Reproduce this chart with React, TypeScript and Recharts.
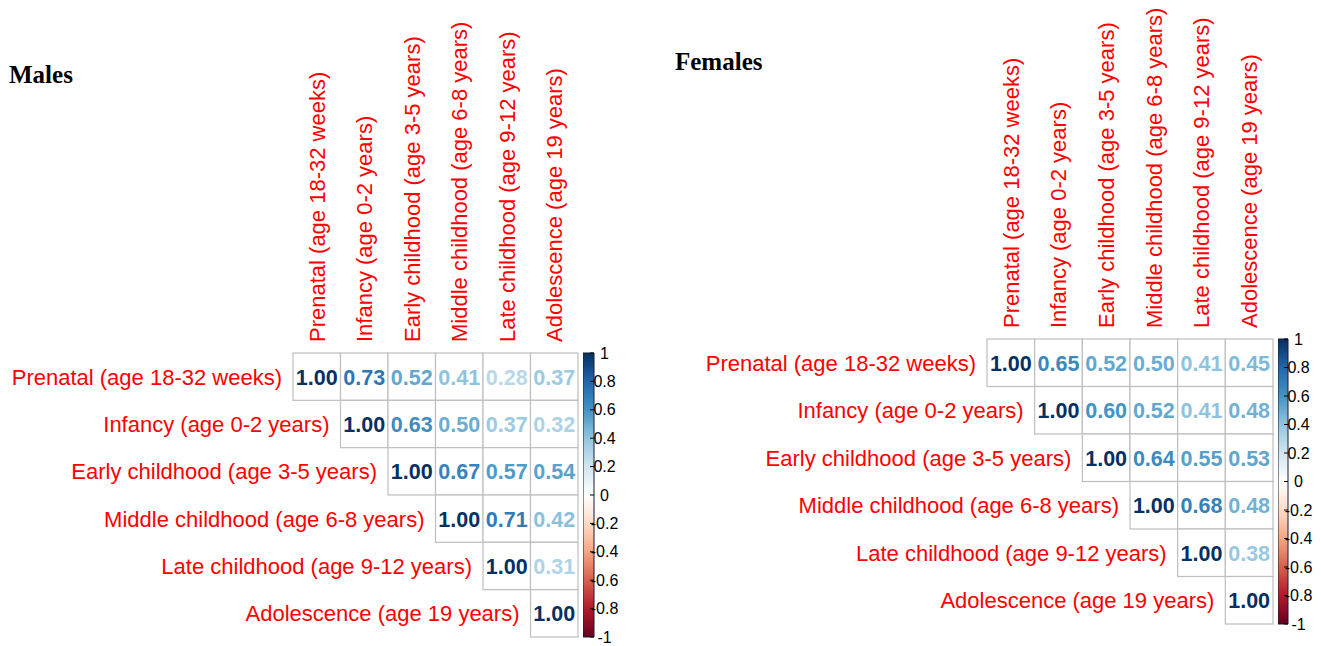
import React from 'react'
import { ScatterChart, Scatter, XAxis, YAxis, BarChart, Bar } from 'recharts'

// variable names, same order on both axes
const LABELS = [
  'Prenatal (age 18-32 weeks)',
  'Infancy (age 0-2 years)',
  'Early childhood (age 3-5 years)',
  'Middle childhood (age 6-8 years)',
  'Late childhood (age 9-12 years)',
  'Adolescence (age 19 years)',
]

// upper triangle, each row starts at the diagonal
const MALES_R = [
  [1.0, 0.73, 0.52, 0.41, 0.28, 0.37],
  [1.0, 0.63, 0.5, 0.37, 0.32],
  [1.0, 0.67, 0.57, 0.54],
  [1.0, 0.71, 0.42],
  [1.0, 0.31],
  [1.0],
]

const FEMALES_R = [
  [1.0, 0.65, 0.52, 0.5, 0.41, 0.45],
  [1.0, 0.6, 0.52, 0.41, 0.48],
  [1.0, 0.64, 0.55, 0.53],
  [1.0, 0.68, 0.48],
  [1.0, 0.38],
  [1.0],
]

const CB_TICKS = [-1, -0.8, -0.6, -0.4, -0.2, 0, 0.2, 0.4, 0.6, 0.8, 1]
const CELL_TICKS = [0.5, 1.5, 2.5, 3.5, 4.5, 5.5]

// corrplot RdBu palette, from -1 to 1
const PALETTE = ['#67001F', '#B2182B', '#D6604D', '#F4A582', '#FDDBC7', '#FFFFFF',
  '#D1E5F0', '#92C5DE', '#4393C3', '#2166AC', '#053061']

const SANS = '"Liberation Sans", Arial, sans-serif'
const SERIF = '"Liberation Serif", "Times New Roman", serif'
const RED = '#FF0000'

function hexToRgb(h: string) {
  const n = parseInt(h.slice(1), 16)
  return [(n >> 16) & 255, (n >> 8) & 255, n & 255]
}

function colorFor(v: number): string {
  const t = ((v + 1) / 2) * (PALETTE.length - 1)
  const i = Math.min(PALETTE.length - 2, Math.floor(t))
  const f = t - i
  const a = hexToRgb(PALETTE[i])
  const b = hexToRgb(PALETTE[i + 1])
  const c = a.map((x, k) => Math.round(x + (b[k] - x) * f))
  return `rgb(${c[0]},${c[1]},${c[2]})`
}

function toCells(rows: number[][]) {
  const out: { x: number; y: number; r: number }[] = []
  rows.forEach((row, i) => {
    row.forEach((r, k) => {
      out.push({ x: i + k + 0.5, y: i + 0.5, r })
    })
  })
  return out
}

interface PanelProps {
  rows: number[][]
  left: number
  width: number
  margin: { top: number; left: number; right: number; bottom: number }
}

const AXIS_X_H = 300
const AXIS_Y_W = 285

function CorrPanel({ rows, left, width, margin }: PanelProps) {
  const height = 646
  const cellW = (width - margin.left - margin.right - AXIS_Y_W) / 6
  const cellH = (height - margin.top - margin.bottom - AXIS_X_H) / 6
  const gridTop = margin.top + AXIS_X_H
  const gridLeft = margin.left + AXIS_Y_W

  const colTick = (p: any) => (
    <text
      transform={`translate(${p.x},${gridTop - 11}) rotate(-90)`}
      dy="0.36em"
      textAnchor="start"
      fill={RED}
      fontFamily={SANS}
      fontSize={22}
    >
      {LABELS[Math.floor(p.payload.value)]}
    </text>
  )

  // upper triangle: each row name sits just left of its diagonal cell
  const rowTick = (p: any) => {
    const i = Math.floor(p.payload.value)
    return (
      <text
        x={gridLeft + i * cellW - 11}
        y={p.y}
        dy="0.36em"
        textAnchor="end"
        fill={RED}
        fontFamily={SANS}
        fontSize={22}
      >
        {LABELS[i]}
      </text>
    )
  }

  const cellShape = (p: any) => {
    const r = p.payload.r as number
    return (
      <g>
        <rect
          x={p.cx - cellW / 2}
          y={p.cy - cellH / 2}
          width={cellW}
          height={cellH}
          fill="#fff"
          stroke="#BEBEBE"
          strokeWidth={1.2}
        />
        <text
          x={p.cx}
          y={p.cy}
          dy="0.37em"
          textAnchor="middle"
          fill={colorFor(r)}
          fontFamily={SANS}
          fontWeight="bold"
          fontSize={21.5}
        >
          {r.toFixed(2)}
        </text>
      </g>
    )
  }

  return (
    <div style={{ position: 'absolute', left, top: 0 }}>
      <ScatterChart width={width} height={height} margin={margin}>
        <XAxis
          type="number"
          dataKey="x"
          domain={[0, 6]}
          ticks={CELL_TICKS}
          interval={0}
          orientation="top"
          height={AXIS_X_H}
          axisLine={false}
          tickLine={false}
          tick={colTick}
        />
        <YAxis
          type="number"
          dataKey="y"
          domain={[0, 6]}
          ticks={CELL_TICKS}
          interval={0}
          reversed
          width={AXIS_Y_W}
          axisLine={false}
          tickLine={false}
          tick={rowTick}
        />
        <Scatter data={toCells(rows)} shape={cellShape} isAnimationActive={false} />
      </ScatterChart>
    </div>
  )
}

function ColorBar({ id, left, top, bottom, barW, axisW }: { id: string; left: number; top: number; bottom: number; barW: number; axisW: number }) {
  const cbTick = (p: any) => (
    <g>
      <line x1={p.x - 4} x2={p.x} y1={p.y} y2={p.y} stroke="#000" strokeWidth={1} />
      <text
        x={p.x + 10.5}
        y={p.y}
        dy="0.35em"
        textAnchor="middle"
        fill="#000"
        fontFamily={SANS}
        fontSize={16}
      >
        {String(p.payload.value)}
      </text>
    </g>
  )
  return (
    <div style={{ position: 'absolute', left, top: 0 }}>
      <BarChart
        width={barW + axisW}
        height={646}
        data={[{ k: 'cb', range: [-1, 1] }]}
        margin={{ top, bottom: 646 - bottom, left: 0, right: 0 }}
        barCategoryGap={0}
      >
        <defs>
          <linearGradient id={id} x1="0" y1="0" x2="0" y2="1">
            {PALETTE.slice().reverse().map((c, i) => (
              <stop key={i} offset={`${(i / (PALETTE.length - 1)) * 100}%`} stopColor={c} />
            ))}
          </linearGradient>
        </defs>
        <XAxis dataKey="k" type="category" hide />
        <YAxis
          orientation="right"
          type="number"
          domain={[-1, 1]}
          ticks={CB_TICKS}
          interval={0}
          width={axisW}
          axisLine={false}
          tickLine={false}
          tickSize={0}
          tickMargin={0}
          tick={cbTick}
        />
        <Bar dataKey="range" fill={`url(#${id})`} stroke="#1a1a2e" strokeWidth={1} isAnimationActive={false} />
      </BarChart>
    </div>
  )
}

export default function App() {
  return (
    <div
      style={{
        position: 'absolute',
        left: 0,
        top: 0,
        width: 1321,
        height: 646,
        background: '#fff',
        overflow: 'hidden',
      }}
    >
      <div style={{ position: 'absolute', left: 9, top: 62, font: `bold 25px/25px ${SERIF}`, color: '#000' }}>
        Males
      </div>
      <div style={{ position: 'absolute', left: 675, top: 49, font: `bold 25px/25px ${SERIF}`, color: '#000' }}>
        Females
      </div>

      <CorrPanel rows={MALES_R} left={0} width={660} margin={{ top: 53, left: 8, right: 82, bottom: 9 }} />
      <ColorBar id="cbM" left={583} top={353} bottom={637} barW={11} axisW={40} />

      <CorrPanel rows={FEMALES_R} left={660} width={661} margin={{ top: 39, left: 42, right: 48, bottom: 22 }} />
      <ColorBar id="cbF" left={1278} top={339} bottom={624} barW={10} axisW={33} />
    </div>
  )
}
